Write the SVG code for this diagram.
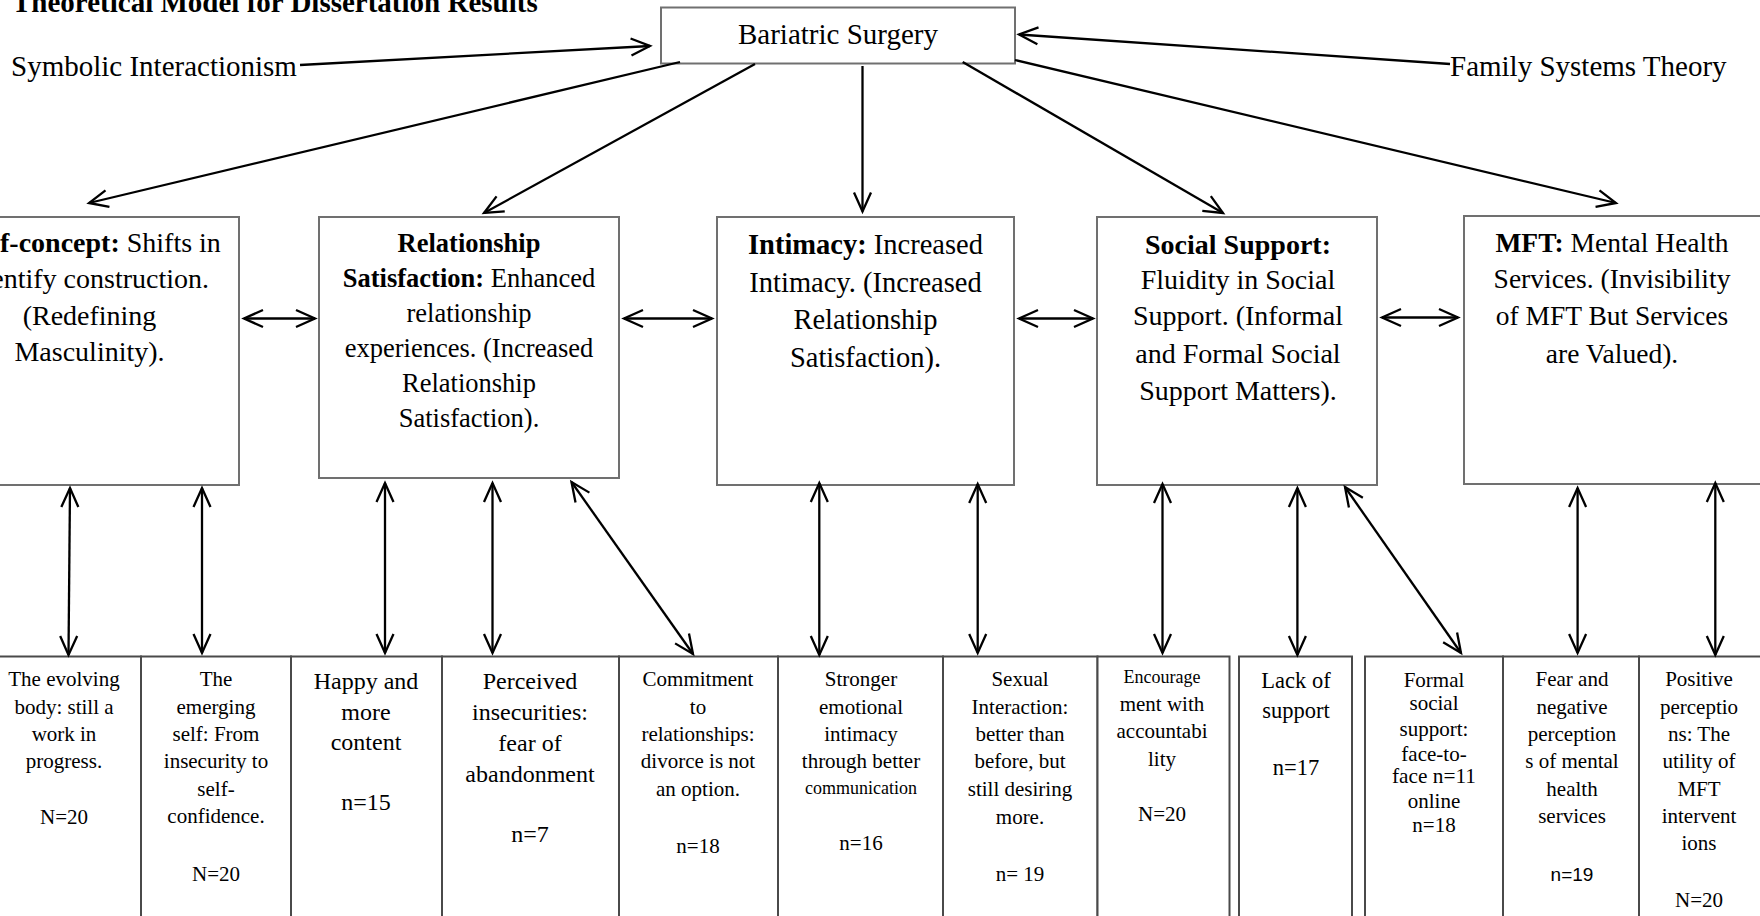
<svg xmlns="http://www.w3.org/2000/svg" width="1760" height="916" viewBox="0 0 1760 916">
<style>
text{font-family:"Liberation Serif","Times New Roman",serif;fill:#000}
.t29{font-size:29px}
.b{font-weight:bold}
.mid{text-anchor:middle}
.box{fill:#fff;stroke:#707070;stroke-width:2}
.cell{fill:#fff;stroke:#4a4a4a;stroke-width:2}
.s21{font-size:21px;text-anchor:middle}
.s24{font-size:24px;text-anchor:middle}
.s18{font-size:18px;text-anchor:middle}
.conn line{stroke:#000;stroke-width:2.3;fill:none}
</style>
<defs>
<marker id="ah" viewBox="-22 -12 26 24" refX="0" refY="0" markerWidth="26" markerHeight="24" markerUnits="userSpaceOnUse" orient="auto-start-reverse">
<path d="M-19,-8.5 L0,0 L-19,8.5" fill="none" stroke="#000" stroke-width="2.3"/>
</marker>
</defs>
<rect width="1760" height="916" fill="#fff"/>

<text id="title" class="b" x="12" y="12" font-size="29">Theoretical Model for Dissertation Results</text>
<g id="symbolic"><text class="t29" x="11" y="76">Symbolic Interactionism</text></g>
<g id="family"><text class="t29" x="1450" y="76">Family Systems Theory</text></g>

<g id="bariatric">
<rect class="box" x="661" y="7.5" width="354" height="56"/>
<text class="t29 mid" x="838" y="44">Bariatric Surgery</text>
</g>

<g id="selfconcept">
<rect class="box" x="-60" y="217" width="299" height="268"/>
<g font-size="28">
<text x="0" y="252"><tspan class="b">f-concept:</tspan> Shifts in</text>
<text x="209" y="288" text-anchor="end">entify construction.</text>
<text x="89.5" y="325" text-anchor="middle">(Redefining</text>
<text x="89.5" y="361" text-anchor="middle">Masculinity).</text>
</g>
</g>

<g id="relationship">
<rect class="box" x="319" y="217" width="300" height="261"/>
<g font-size="26.5" text-anchor="middle">
<text x="469" y="252" class="b">Relationship</text>
<text x="469" y="287"><tspan class="b">Satisfaction:</tspan> Enhanced</text>
<text x="469" y="322">relationship</text>
<text x="469" y="357">experiences. (Increased</text>
<text x="469" y="392">Relationship</text>
<text x="469" y="426.5">Satisfaction).</text>
</g>
</g>

<g id="intimacy">
<rect class="box" x="717" y="217" width="297" height="268"/>
<g font-size="28.5" text-anchor="middle">
<text x="865.5" y="253.5"><tspan class="b">Intimacy:</tspan> Increased</text>
<text x="865.5" y="292">Intimacy. (Increased</text>
<text x="865.5" y="329">Relationship</text>
<text x="865.5" y="367">Satisfaction).</text>
</g>
</g>

<g id="social">
<rect class="box" x="1097" y="217" width="280" height="268"/>
<g font-size="28" text-anchor="middle">
<text x="1238" y="253.5" class="b">Social Support:</text>
<text x="1238" y="289">Fluidity in Social</text>
<text x="1238" y="325">Support. (Informal</text>
<text x="1238" y="362.5">and Formal Social</text>
<text x="1238" y="399.5">Support Matters).</text>
</g>
</g>

<g id="mft">
<rect class="box" x="1464" y="216" width="300" height="268"/>
<g font-size="27.5" text-anchor="middle">
<text x="1612" y="252"><tspan class="b">MFT:</tspan> Mental Health</text>
<text x="1612" y="288">Services. (Invisibility</text>
<text x="1612" y="325">of MFT But Services</text>
<text x="1612" y="363">are Valued).</text>
</g>
</g>

<g id="theme1">
<rect class="cell" x="-10" y="656.5" width="151" height="280"/>
<text class="s21" x="64" y="686">The evolving</text>
<text class="s21" x="64" y="714">body: still a</text>
<text class="s21" x="64" y="741">work in</text>
<text class="s21" x="64" y="768">progress.</text>
<text class="s21" x="64" y="824">N=20</text>
</g>
<g id="theme2">
<rect class="cell" x="141" y="656.5" width="150" height="280"/>
<text class="s21" x="216" y="686">The</text>
<text class="s21" x="216" y="714">emerging</text>
<text class="s21" x="216" y="741">self: From</text>
<text class="s21" x="216" y="768">insecurity to</text>
<text class="s21" x="216" y="796">self-</text>
<text class="s21" x="216" y="823">confidence.</text>
<text class="s21" x="216" y="881">N=20</text>
</g>
<g id="theme3">
<rect class="cell" x="291" y="656.5" width="151" height="280"/>
<text class="s24" x="366" y="689">Happy and</text>
<text class="s24" x="366" y="720">more</text>
<text class="s24" x="366" y="750">content</text>
<text class="s24" x="366" y="810">n=15</text>
</g>
<g id="theme4">
<rect class="cell" x="442" y="656.5" width="177" height="280"/>
<text class="s24" x="530" y="689">Perceived</text>
<text class="s24" x="530" y="720">insecurities:</text>
<text class="s24" x="530" y="751">fear of</text>
<text class="s24" x="530" y="782">abandonment</text>
<text class="s24" x="530" y="842">n=7</text>
</g>
<g id="theme5">
<rect class="cell" x="619" y="656.5" width="159" height="280"/>
<text class="s21" x="698" y="686">Commitment</text>
<text class="s21" x="698" y="714">to</text>
<text class="s21" x="698" y="741">relationships:</text>
<text class="s21" x="698" y="768">divorce is not</text>
<text class="s21" x="698" y="796">an option.</text>
<text class="s21" x="698" y="853">n=18</text>
</g>
<g id="theme6">
<rect class="cell" x="778" y="656.5" width="165" height="280"/>
<text class="s21" x="861" y="686">Stronger</text>
<text class="s21" x="861" y="714">emotional</text>
<text class="s21" x="861" y="741">intimacy</text>
<text class="s21" x="861" y="768">through better</text>
<text class="s18" x="861" y="794">communication</text>
<text class="s21" x="861" y="850">n=16</text>
</g>
<g id="theme7">
<rect class="cell" x="943" y="656.5" width="154.5" height="280"/>
<text class="s21" x="1020" y="686">Sexual</text>
<text class="s21" x="1020" y="714">Interaction:</text>
<text class="s21" x="1020" y="741">better than</text>
<text class="s21" x="1020" y="768">before, but</text>
<text class="s21" x="1020" y="796">still desiring</text>
<text class="s21" x="1020" y="824">more.</text>
<text class="s21" x="1020" y="881">n= 19</text>
</g>
<g id="theme8">
<rect class="cell" x="1097.5" y="656.5" width="132" height="280"/>
<text class="s18" x="1162" y="683">Encourage</text>
<text class="s21" x="1162" y="711">ment with</text>
<text class="s21" x="1162" y="738">accountabi</text>
<text class="s21" x="1162" y="766">lity</text>
<text class="s21" x="1162" y="821">N=20</text>
</g>
<g id="theme9">
<rect class="cell" x="1239" y="656.5" width="113" height="280"/>
<text x="1296" y="688" font-size="22.5" text-anchor="middle">Lack of</text>
<text x="1296" y="718" font-size="22.5" text-anchor="middle">support</text>
<text x="1296" y="775" font-size="22.5" text-anchor="middle">n=17</text>
</g>
<g id="theme10">
<rect class="cell" x="1365" y="656.5" width="138" height="280"/>
<text class="s21" x="1434" y="686.5">Formal</text>
<text class="s21" x="1434" y="710">social</text>
<text class="s21" x="1434" y="736">support:</text>
<text class="s21" x="1434" y="761">face-to-</text>
<text class="s21" x="1434" y="783" textLength="84" lengthAdjust="spacingAndGlyphs">face n=11</text>
<text class="s21" x="1434" y="808">online</text>
<text class="s21" x="1434" y="831.5">n=18</text>
</g>
<g id="theme11">
<rect class="cell" x="1503" y="656.5" width="136" height="280"/>
<text class="s21" x="1572" y="686">Fear and</text>
<text class="s21" x="1572" y="714">negative</text>
<text class="s21" x="1572" y="741">perception</text>
<text class="s21" x="1572" y="768">s of mental</text>
<text class="s21" x="1572" y="796">health</text>
<text class="s21" x="1572" y="823">services</text>
<text x="1572" y="881" font-size="19" text-anchor="middle" style="font-family:'Liberation Sans',Arial,sans-serif">n=19</text>
</g>
<g id="theme12">
<rect class="cell" x="1639" y="656.5" width="130" height="280"/>
<text class="s21" x="1699" y="686">Positive</text>
<text class="s21" x="1699" y="714">perceptio</text>
<text class="s21" x="1699" y="741">ns: The</text>
<text class="s21" x="1699" y="768">utility of</text>
<text class="s21" x="1699" y="796">MFT</text>
<text class="s21" x="1699" y="823">intervent</text>
<text class="s21" x="1699" y="850">ions</text>
<text class="s21" x="1699" y="907">N=20</text>
</g>

<g id="connectors" class="conn">
<line x1="300" y1="65" x2="650" y2="46" marker-end="url(#ah)"/>
<line x1="1450" y1="64" x2="1019" y2="34.5" marker-end="url(#ah)"/>
<line x1="680" y1="62" x2="89" y2="203" marker-end="url(#ah)"/>
<line x1="755" y1="64" x2="484" y2="213" marker-end="url(#ah)"/>
<line x1="862.5" y1="66" x2="862.5" y2="211.5" marker-end="url(#ah)"/>
<line x1="962.7" y1="62" x2="1223" y2="213" marker-end="url(#ah)"/>
<line x1="1015" y1="60" x2="1616" y2="203" marker-end="url(#ah)"/>
<line x1="244" y1="318.5" x2="315" y2="318.5" marker-start="url(#ah)" marker-end="url(#ah)"/>
<line x1="624" y1="318.5" x2="712" y2="318.5" marker-start="url(#ah)" marker-end="url(#ah)"/>
<line x1="1019" y1="318.5" x2="1093" y2="318.5" marker-start="url(#ah)" marker-end="url(#ah)"/>
<line x1="1382" y1="317.5" x2="1458" y2="317.5" marker-start="url(#ah)" marker-end="url(#ah)"/>
<line x1="70" y1="488" x2="68.5" y2="655" marker-start="url(#ah)" marker-end="url(#ah)"/>
<line x1="202" y1="488" x2="202" y2="653" marker-start="url(#ah)" marker-end="url(#ah)"/>
<line x1="385" y1="483" x2="385" y2="653" marker-start="url(#ah)" marker-end="url(#ah)"/>
<line x1="492.5" y1="483" x2="492.5" y2="653" marker-start="url(#ah)" marker-end="url(#ah)"/>
<line x1="571.5" y1="482" x2="693" y2="654" marker-start="url(#ah)" marker-end="url(#ah)"/>
<line x1="819.3" y1="483" x2="819.3" y2="655" marker-start="url(#ah)" marker-end="url(#ah)"/>
<line x1="977.7" y1="484" x2="977.7" y2="653" marker-start="url(#ah)" marker-end="url(#ah)"/>
<line x1="1162.5" y1="484" x2="1162.5" y2="653" marker-start="url(#ah)" marker-end="url(#ah)"/>
<line x1="1297.4" y1="488" x2="1297.4" y2="655" marker-start="url(#ah)" marker-end="url(#ah)"/>
<line x1="1345" y1="487" x2="1461" y2="653" marker-start="url(#ah)" marker-end="url(#ah)"/>
<line x1="1577.6" y1="488" x2="1577.6" y2="653" marker-start="url(#ah)" marker-end="url(#ah)"/>
<line x1="1715.3" y1="483" x2="1715.3" y2="655" marker-start="url(#ah)" marker-end="url(#ah)"/>
</g>
</svg>
